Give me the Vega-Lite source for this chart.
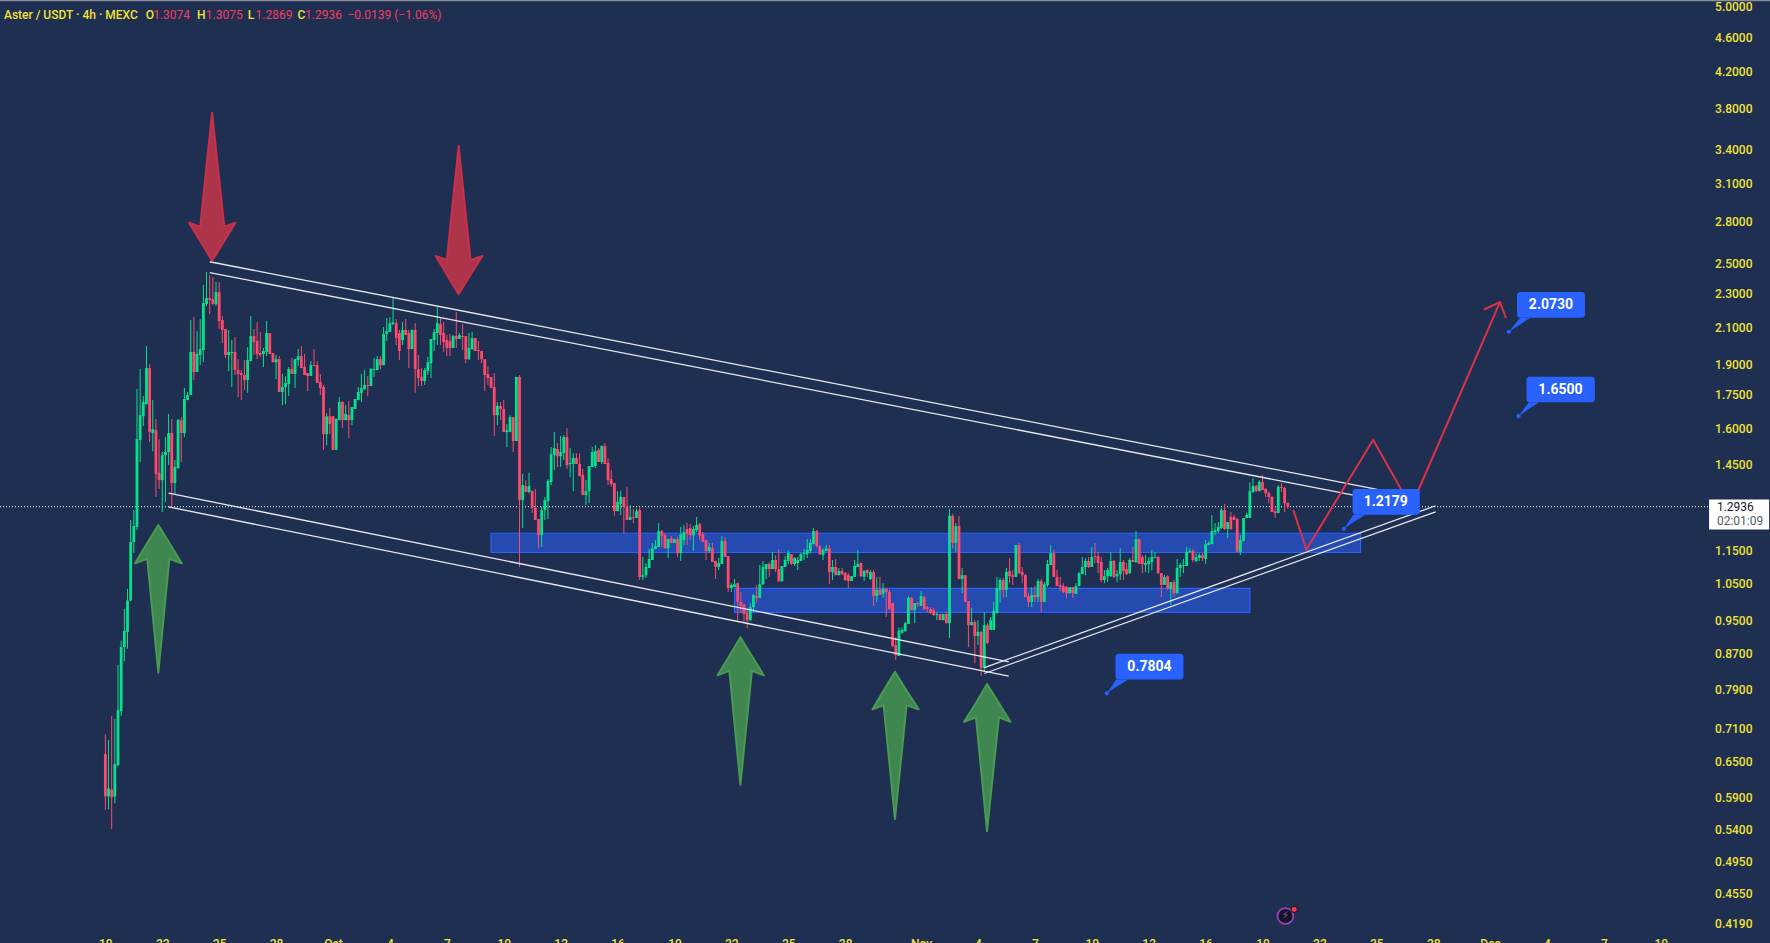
{"$schema":"https://vega.github.io/schema/vega-lite/v6.json","width":1770,"height":943,"autosize":"none","padding":0,"background":"#1f2f52","config":{"view":{"stroke":null}},
"datasets":{"candles":[
{"t":"2025-09-19T00:00Z","o":0.663,"h":0.699,"l":0.570,"c":0.591},{"t":"2025-09-19T04:00Z","o":0.591,"h":0.688,"l":0.571,"c":0.604},{"t":"2025-09-19T08:00Z","o":0.602,"h":0.735,"l":0.541,"c":0.590},{"t":"2025-09-19T12:00Z","o":0.591,"h":0.729,"l":0.580,"c":0.645},{"t":"2025-09-19T16:00Z","o":0.643,"h":0.843,"l":0.641,"c":0.746},{"t":"2025-09-19T20:00Z","o":0.744,"h":0.900,"l":0.735,"c":0.885},
{"t":"2025-09-20T00:00Z","o":0.885,"h":0.981,"l":0.852,"c":0.925},{"t":"2025-09-20T04:00Z","o":0.922,"h":1.036,"l":0.881,"c":1.004},{"t":"2025-09-20T08:00Z","o":1.004,"h":1.248,"l":1.002,"c":1.176},{"t":"2025-09-20T12:00Z","o":1.176,"h":1.282,"l":1.141,"c":1.228},{"t":"2025-09-20T16:00Z","o":1.225,"h":1.778,"l":1.215,"c":1.553},{"t":"2025-09-20T20:00Z","o":1.549,"h":1.877,"l":1.460,"c":1.657},
{"t":"2025-09-21T00:00Z","o":1.652,"h":1.745,"l":1.609,"c":1.717},{"t":"2025-09-21T04:00Z","o":1.707,"h":1.997,"l":1.707,"c":1.882},{"t":"2025-09-21T08:00Z","o":1.882,"h":1.902,"l":1.541,"c":1.584},{"t":"2025-09-21T12:00Z","o":1.579,"h":1.726,"l":1.503,"c":1.595},{"t":"2025-09-21T16:00Z","o":1.591,"h":1.640,"l":1.328,"c":1.414},{"t":"2025-09-21T20:00Z","o":1.418,"h":1.553,"l":1.357,"c":1.390},
{"t":"2025-09-22T00:00Z","o":1.390,"h":1.500,"l":1.275,"c":1.487},{"t":"2025-09-22T04:00Z","o":1.487,"h":1.562,"l":1.310,"c":1.500},{"t":"2025-09-22T08:00Z","o":1.500,"h":1.662,"l":1.448,"c":1.579},{"t":"2025-09-22T12:00Z","o":1.579,"h":1.640,"l":1.293,"c":1.379},{"t":"2025-09-22T16:00Z","o":1.379,"h":1.468,"l":1.339,"c":1.440},{"t":"2025-09-22T20:00Z","o":1.436,"h":1.640,"l":1.433,"c":1.635},
{"t":"2025-09-23T00:00Z","o":1.635,"h":1.648,"l":1.460,"c":1.579},{"t":"2025-09-23T04:00Z","o":1.579,"h":1.783,"l":1.562,"c":1.731},{"t":"2025-09-23T08:00Z","o":1.726,"h":1.764,"l":1.726,"c":1.750},{"t":"2025-09-23T12:00Z","o":1.750,"h":2.143,"l":1.750,"c":1.966},{"t":"2025-09-23T16:00Z","o":1.966,"h":2.160,"l":1.822,"c":1.862},{"t":"2025-09-23T20:00Z","o":1.862,"h":2.080,"l":1.862,"c":1.955},
{"t":"2025-09-24T00:00Z","o":1.950,"h":2.149,"l":1.897,"c":1.981},{"t":"2025-09-24T04:00Z","o":1.976,"h":2.356,"l":1.912,"c":2.244},{"t":"2025-09-24T08:00Z","o":2.238,"h":2.440,"l":2.226,"c":2.274},{"t":"2025-09-24T12:00Z","o":2.274,"h":2.420,"l":2.178,"c":2.262},{"t":"2025-09-24T16:00Z","o":2.268,"h":2.407,"l":2.232,"c":2.238},{"t":"2025-09-24T20:00Z","o":2.238,"h":2.375,"l":2.226,"c":2.311},
{"t":"2025-09-25T00:00Z","o":2.311,"h":2.375,"l":2.092,"c":2.137},{"t":"2025-09-25T04:00Z","o":2.143,"h":2.166,"l":2.014,"c":2.086},{"t":"2025-09-25T08:00Z","o":2.092,"h":2.092,"l":1.933,"c":1.950},{"t":"2025-09-25T12:00Z","o":1.950,"h":2.086,"l":1.867,"c":1.966},{"t":"2025-09-25T16:00Z","o":1.960,"h":2.030,"l":1.788,"c":1.966},{"t":"2025-09-25T20:00Z","o":1.966,"h":2.047,"l":1.847,"c":1.872},
{"t":"2025-09-26T00:00Z","o":1.872,"h":1.928,"l":1.740,"c":1.852},{"t":"2025-09-26T04:00Z","o":1.857,"h":1.872,"l":1.726,"c":1.847},{"t":"2025-09-26T08:00Z","o":1.847,"h":1.923,"l":1.774,"c":1.822},{"t":"2025-09-26T12:00Z","o":1.822,"h":1.992,"l":1.760,"c":1.923},{"t":"2025-09-26T16:00Z","o":1.918,"h":2.166,"l":1.918,"c":2.052},{"t":"2025-09-26T20:00Z","o":2.052,"h":2.092,"l":1.950,"c":2.019},
{"t":"2025-09-27T00:00Z","o":2.025,"h":2.131,"l":1.928,"c":1.955},{"t":"2025-09-27T04:00Z","o":1.960,"h":2.075,"l":1.939,"c":1.950},{"t":"2025-09-27T08:00Z","o":1.955,"h":1.987,"l":1.888,"c":1.971},{"t":"2025-09-27T12:00Z","o":1.966,"h":2.137,"l":1.944,"c":2.069},{"t":"2025-09-27T16:00Z","o":2.069,"h":2.069,"l":1.955,"c":1.955},{"t":"2025-09-27T20:00Z","o":1.960,"h":1.960,"l":1.912,"c":1.912},
{"t":"2025-09-28T00:00Z","o":1.912,"h":1.950,"l":1.827,"c":1.928},{"t":"2025-09-28T04:00Z","o":1.928,"h":1.944,"l":1.764,"c":1.764},{"t":"2025-09-28T08:00Z","o":1.764,"h":1.852,"l":1.703,"c":1.788},{"t":"2025-09-28T12:00Z","o":1.788,"h":1.842,"l":1.707,"c":1.808},{"t":"2025-09-28T16:00Z","o":1.803,"h":1.888,"l":1.745,"c":1.877},{"t":"2025-09-28T20:00Z","o":1.877,"h":1.933,"l":1.852,"c":1.852},
{"t":"2025-09-29T00:00Z","o":1.852,"h":1.928,"l":1.783,"c":1.928},{"t":"2025-09-29T04:00Z","o":1.923,"h":1.981,"l":1.892,"c":1.944},{"t":"2025-09-29T08:00Z","o":1.944,"h":1.997,"l":1.882,"c":1.882},{"t":"2025-09-29T12:00Z","o":1.888,"h":1.955,"l":1.847,"c":1.847},{"t":"2025-09-29T16:00Z","o":1.857,"h":1.857,"l":1.769,"c":1.842},{"t":"2025-09-29T20:00Z","o":1.842,"h":1.918,"l":1.842,"c":1.897},
{"t":"2025-09-30T00:00Z","o":1.897,"h":1.981,"l":1.892,"c":1.892},{"t":"2025-09-30T04:00Z","o":1.897,"h":1.918,"l":1.808,"c":1.808},{"t":"2025-09-30T08:00Z","o":1.812,"h":1.852,"l":1.750,"c":1.783},{"t":"2025-09-30T12:00Z","o":1.788,"h":1.798,"l":1.508,"c":1.574},{"t":"2025-09-30T16:00Z","o":1.574,"h":1.666,"l":1.528,"c":1.652},{"t":"2025-09-30T20:00Z","o":1.652,"h":1.689,"l":1.574,"c":1.618},
{"t":"2025-10-01T00:00Z","o":1.652,"h":1.652,"l":1.508,"c":1.508},{"t":"2025-10-01T04:00Z","o":1.508,"h":1.644,"l":1.508,"c":1.640},{"t":"2025-10-01T08:00Z","o":1.635,"h":1.740,"l":1.635,"c":1.717},{"t":"2025-10-01T12:00Z","o":1.717,"h":1.721,"l":1.600,"c":1.635},{"t":"2025-10-01T16:00Z","o":1.635,"h":1.703,"l":1.635,"c":1.662},{"t":"2025-10-01T20:00Z","o":1.657,"h":1.721,"l":1.557,"c":1.635},
{"t":"2025-10-02T00:00Z","o":1.635,"h":1.694,"l":1.613,"c":1.694},{"t":"2025-10-02T04:00Z","o":1.685,"h":1.731,"l":1.685,"c":1.731},{"t":"2025-10-02T08:00Z","o":1.726,"h":1.788,"l":1.726,"c":1.764},{"t":"2025-10-02T12:00Z","o":1.760,"h":1.852,"l":1.717,"c":1.783},{"t":"2025-10-02T16:00Z","o":1.778,"h":1.872,"l":1.774,"c":1.798},{"t":"2025-10-02T20:00Z","o":1.798,"h":1.842,"l":1.745,"c":1.793},
{"t":"2025-10-03T00:00Z","o":1.793,"h":1.882,"l":1.793,"c":1.877},{"t":"2025-10-03T04:00Z","o":1.872,"h":1.933,"l":1.837,"c":1.877},{"t":"2025-10-03T08:00Z","o":1.872,"h":1.944,"l":1.872,"c":1.928},{"t":"2025-10-03T12:00Z","o":1.928,"h":1.944,"l":1.877,"c":1.897},{"t":"2025-10-03T16:00Z","o":1.897,"h":2.103,"l":1.897,"c":2.064},{"t":"2025-10-03T20:00Z","o":2.064,"h":2.155,"l":2.025,"c":2.080},
{"t":"2025-10-04T00:00Z","o":2.075,"h":2.160,"l":2.075,"c":2.125},{"t":"2025-10-04T04:00Z","o":2.120,"h":2.274,"l":2.114,"c":2.131},{"t":"2025-10-04T08:00Z","o":2.125,"h":2.149,"l":2.003,"c":2.041},{"t":"2025-10-04T12:00Z","o":2.069,"h":2.086,"l":1.923,"c":1.971},{"t":"2025-10-04T16:00Z","o":2.030,"h":2.131,"l":2.003,"c":2.086},{"t":"2025-10-04T20:00Z","o":2.086,"h":2.149,"l":2.058,"c":2.058},
{"t":"2025-10-05T00:00Z","o":2.069,"h":2.086,"l":1.882,"c":1.981},{"t":"2025-10-05T04:00Z","o":1.981,"h":2.092,"l":1.981,"c":2.086},{"t":"2025-10-05T08:00Z","o":2.086,"h":2.125,"l":1.760,"c":1.877},{"t":"2025-10-05T12:00Z","o":1.877,"h":1.950,"l":1.793,"c":1.832},{"t":"2025-10-05T16:00Z","o":1.837,"h":1.882,"l":1.793,"c":1.817},{"t":"2025-10-05T20:00Z","o":1.817,"h":1.882,"l":1.798,"c":1.872},
{"t":"2025-10-06T00:00Z","o":1.867,"h":1.939,"l":1.847,"c":1.912},{"t":"2025-10-06T04:00Z","o":1.907,"h":2.036,"l":1.832,"c":2.036},{"t":"2025-10-06T08:00Z","o":2.030,"h":2.092,"l":1.971,"c":2.075},{"t":"2025-10-06T12:00Z","o":2.069,"h":2.220,"l":2.003,"c":2.125},{"t":"2025-10-06T16:00Z","o":2.120,"h":2.155,"l":2.003,"c":2.058},{"t":"2025-10-06T20:00Z","o":2.069,"h":2.131,"l":1.966,"c":2.019},
{"t":"2025-10-07T00:00Z","o":2.030,"h":2.058,"l":1.944,"c":1.987},{"t":"2025-10-07T04:00Z","o":2.025,"h":2.064,"l":1.944,"c":1.987},{"t":"2025-10-07T08:00Z","o":1.987,"h":2.058,"l":1.987,"c":2.052},{"t":"2025-10-07T12:00Z","o":2.052,"h":2.190,"l":1.987,"c":2.036},{"t":"2025-10-07T16:00Z","o":2.036,"h":2.069,"l":2.036,"c":2.058},{"t":"2025-10-07T20:00Z","o":2.052,"h":2.120,"l":1.976,"c":2.047},
{"t":"2025-10-08T00:00Z","o":2.052,"h":2.052,"l":1.907,"c":1.928},{"t":"2025-10-08T04:00Z","o":1.928,"h":2.069,"l":1.923,"c":1.987},{"t":"2025-10-08T08:00Z","o":1.981,"h":2.075,"l":1.976,"c":2.041},{"t":"2025-10-08T12:00Z","o":2.041,"h":2.041,"l":1.971,"c":1.971},{"t":"2025-10-08T16:00Z","o":1.976,"h":2.025,"l":1.923,"c":1.971},{"t":"2025-10-08T20:00Z","o":1.971,"h":1.971,"l":1.907,"c":1.928},
{"t":"2025-10-09T00:00Z","o":1.928,"h":1.928,"l":1.769,"c":1.847},{"t":"2025-10-09T04:00Z","o":1.852,"h":1.892,"l":1.798,"c":1.832},{"t":"2025-10-09T08:00Z","o":1.837,"h":1.837,"l":1.783,"c":1.783},{"t":"2025-10-09T12:00Z","o":1.788,"h":1.857,"l":1.566,"c":1.657},{"t":"2025-10-09T16:00Z","o":1.657,"h":1.717,"l":1.613,"c":1.699},{"t":"2025-10-09T20:00Z","o":1.699,"h":1.717,"l":1.635,"c":1.685},
{"t":"2025-10-10T00:00Z","o":1.685,"h":1.726,"l":1.583,"c":1.583},{"t":"2025-10-10T04:00Z","o":1.583,"h":1.618,"l":1.520,"c":1.591},{"t":"2025-10-10T08:00Z","o":1.583,"h":1.657,"l":1.583,"c":1.648},{"t":"2025-10-10T12:00Z","o":1.648,"h":1.648,"l":1.500,"c":1.545},{"t":"2025-10-10T16:00Z","o":1.545,"h":1.837,"l":1.545,"c":1.837},{"t":"2025-10-10T20:00Z","o":1.837,"h":1.847,"l":1.099,"c":1.317},
{"t":"2025-10-11T00:00Z","o":1.317,"h":1.414,"l":1.221,"c":1.372},{"t":"2025-10-11T04:00Z","o":1.368,"h":1.390,"l":1.346,"c":1.346},{"t":"2025-10-11T08:00Z","o":1.346,"h":1.418,"l":1.342,"c":1.368},{"t":"2025-10-11T12:00Z","o":1.349,"h":1.353,"l":1.272,"c":1.289},{"t":"2025-10-11T16:00Z","o":1.289,"h":1.357,"l":1.248,"c":1.248},{"t":"2025-10-11T20:00Z","o":1.251,"h":1.251,"l":1.156,"c":1.198},
{"t":"2025-10-12T00:00Z","o":1.198,"h":1.293,"l":1.160,"c":1.282},{"t":"2025-10-12T04:00Z","o":1.282,"h":1.328,"l":1.248,"c":1.317},{"t":"2025-10-12T08:00Z","o":1.313,"h":1.394,"l":1.251,"c":1.387},{"t":"2025-10-12T12:00Z","o":1.383,"h":1.520,"l":1.372,"c":1.491},{"t":"2025-10-12T16:00Z","o":1.487,"h":1.583,"l":1.429,"c":1.516},{"t":"2025-10-12T20:00Z","o":1.512,"h":1.537,"l":1.440,"c":1.483},
{"t":"2025-10-13T00:00Z","o":1.483,"h":1.566,"l":1.440,"c":1.500},{"t":"2025-10-13T04:00Z","o":1.495,"h":1.570,"l":1.468,"c":1.562},{"t":"2025-10-13T08:00Z","o":1.562,"h":1.600,"l":1.433,"c":1.448},{"t":"2025-10-13T12:00Z","o":1.452,"h":1.516,"l":1.401,"c":1.456},{"t":"2025-10-13T16:00Z","o":1.452,"h":1.495,"l":1.349,"c":1.476},{"t":"2025-10-13T20:00Z","o":1.476,"h":1.495,"l":1.452,"c":1.452},
{"t":"2025-10-14T00:00Z","o":1.452,"h":1.495,"l":1.405,"c":1.405},{"t":"2025-10-14T04:00Z","o":1.410,"h":1.433,"l":1.335,"c":1.335},{"t":"2025-10-14T08:00Z","o":1.335,"h":1.390,"l":1.299,"c":1.349},{"t":"2025-10-14T12:00Z","o":1.349,"h":1.444,"l":1.306,"c":1.444},{"t":"2025-10-14T16:00Z","o":1.440,"h":1.520,"l":1.440,"c":1.500},{"t":"2025-10-14T20:00Z","o":1.444,"h":1.528,"l":1.436,"c":1.503},
{"t":"2025-10-15T00:00Z","o":1.508,"h":1.516,"l":1.460,"c":1.460},{"t":"2025-10-15T04:00Z","o":1.460,"h":1.528,"l":1.452,"c":1.524},{"t":"2025-10-15T08:00Z","o":1.524,"h":1.537,"l":1.452,"c":1.452},{"t":"2025-10-15T12:00Z","o":1.456,"h":1.476,"l":1.372,"c":1.390},{"t":"2025-10-15T16:00Z","o":1.394,"h":1.429,"l":1.365,"c":1.375},{"t":"2025-10-15T20:00Z","o":1.379,"h":1.379,"l":1.262,"c":1.278},
{"t":"2025-10-16T00:00Z","o":1.278,"h":1.349,"l":1.278,"c":1.310},{"t":"2025-10-16T04:00Z","o":1.303,"h":1.349,"l":1.265,"c":1.328},{"t":"2025-10-16T08:00Z","o":1.328,"h":1.328,"l":1.204,"c":1.293},{"t":"2025-10-16T12:00Z","o":1.293,"h":1.365,"l":1.248,"c":1.248},{"t":"2025-10-16T16:00Z","o":1.248,"h":1.299,"l":1.248,"c":1.258},{"t":"2025-10-16T20:00Z","o":1.258,"h":1.286,"l":1.238,"c":1.255},
{"t":"2025-10-17T00:00Z","o":1.255,"h":1.286,"l":1.255,"c":1.278},{"t":"2025-10-17T04:00Z","o":1.282,"h":1.289,"l":1.061,"c":1.070},{"t":"2025-10-17T08:00Z","o":1.070,"h":1.129,"l":1.061,"c":1.075},{"t":"2025-10-17T12:00Z","o":1.075,"h":1.111,"l":1.067,"c":1.099},{"t":"2025-10-17T16:00Z","o":1.096,"h":1.154,"l":1.096,"c":1.123},{"t":"2025-10-17T20:00Z","o":1.120,"h":1.173,"l":1.120,"c":1.156},
{"t":"2025-10-18T00:00Z","o":1.154,"h":1.182,"l":1.154,"c":1.163},{"t":"2025-10-18T04:00Z","o":1.160,"h":1.238,"l":1.160,"c":1.211},{"t":"2025-10-18T08:00Z","o":1.211,"h":1.215,"l":1.160,"c":1.195},{"t":"2025-10-18T12:00Z","o":1.198,"h":1.204,"l":1.156,"c":1.156},{"t":"2025-10-18T16:00Z","o":1.156,"h":1.185,"l":1.126,"c":1.185},{"t":"2025-10-18T20:00Z","o":1.188,"h":1.195,"l":1.173,"c":1.173},
{"t":"2025-10-19T00:00Z","o":1.173,"h":1.185,"l":1.173,"c":1.185},{"t":"2025-10-19T04:00Z","o":1.185,"h":1.191,"l":1.129,"c":1.141},{"t":"2025-10-19T08:00Z","o":1.141,"h":1.225,"l":1.117,"c":1.201},{"t":"2025-10-19T12:00Z","o":1.182,"h":1.231,"l":1.166,"c":1.208},{"t":"2025-10-19T16:00Z","o":1.218,"h":1.238,"l":1.166,"c":1.201},{"t":"2025-10-19T20:00Z","o":1.221,"h":1.234,"l":1.182,"c":1.198},
{"t":"2025-10-20T00:00Z","o":1.198,"h":1.228,"l":1.148,"c":1.218},{"t":"2025-10-20T04:00Z","o":1.214,"h":1.258,"l":1.208,"c":1.231},{"t":"2025-10-20T08:00Z","o":1.234,"h":1.238,"l":1.182,"c":1.195},{"t":"2025-10-20T12:00Z","o":1.201,"h":1.208,"l":1.176,"c":1.176},{"t":"2025-10-20T16:00Z","o":1.182,"h":1.182,"l":1.120,"c":1.148},{"t":"2025-10-20T20:00Z","o":1.148,"h":1.173,"l":1.141,"c":1.160},
{"t":"2025-10-21T00:00Z","o":1.156,"h":1.173,"l":1.114,"c":1.114},{"t":"2025-10-21T04:00Z","o":1.117,"h":1.117,"l":1.064,"c":1.099},{"t":"2025-10-21T08:00Z","o":1.099,"h":1.126,"l":1.090,"c":1.111},{"t":"2025-10-21T12:00Z","o":1.108,"h":1.195,"l":1.108,"c":1.179},{"t":"2025-10-21T16:00Z","o":1.179,"h":1.191,"l":1.129,"c":1.129},{"t":"2025-10-21T20:00Z","o":1.132,"h":1.132,"l":1.027,"c":1.038},
{"t":"2025-10-22T00:00Z","o":1.038,"h":1.052,"l":1.027,"c":1.047},{"t":"2025-10-22T04:00Z","o":1.041,"h":1.064,"l":1.041,"c":1.049},{"t":"2025-10-22T08:00Z","o":1.052,"h":1.052,"l":0.952,"c":1.000},{"t":"2025-10-22T12:00Z","o":1.000,"h":1.027,"l":0.970,"c":0.989},{"t":"2025-10-22T16:00Z","o":0.994,"h":0.994,"l":0.947,"c":0.968},{"t":"2025-10-22T20:00Z","o":0.970,"h":0.981,"l":0.931,"c":0.952},
{"t":"2025-10-23T00:00Z","o":0.952,"h":0.997,"l":0.949,"c":0.986},{"t":"2025-10-23T04:00Z","o":0.986,"h":1.022,"l":0.973,"c":1.019},{"t":"2025-10-23T08:00Z","o":1.016,"h":1.047,"l":0.997,"c":1.011},{"t":"2025-10-23T12:00Z","o":1.011,"h":1.105,"l":1.011,"c":1.049},{"t":"2025-10-23T16:00Z","o":1.049,"h":1.117,"l":1.047,"c":1.099},{"t":"2025-10-23T20:00Z","o":1.093,"h":1.108,"l":1.064,"c":1.108},
{"t":"2025-10-24T00:00Z","o":1.108,"h":1.114,"l":1.070,"c":1.093},{"t":"2025-10-24T04:00Z","o":1.093,"h":1.145,"l":1.093,"c":1.120},{"t":"2025-10-24T08:00Z","o":1.120,"h":1.135,"l":1.084,"c":1.093},{"t":"2025-10-24T12:00Z","o":1.093,"h":1.154,"l":1.055,"c":1.058},{"t":"2025-10-24T16:00Z","o":1.058,"h":1.102,"l":1.055,"c":1.102},{"t":"2025-10-24T20:00Z","o":1.099,"h":1.132,"l":1.099,"c":1.120},
{"t":"2025-10-25T00:00Z","o":1.117,"h":1.151,"l":1.108,"c":1.141},{"t":"2025-10-25T04:00Z","o":1.138,"h":1.138,"l":1.105,"c":1.108},{"t":"2025-10-25T08:00Z","o":1.108,"h":1.129,"l":1.102,"c":1.126},{"t":"2025-10-25T12:00Z","o":1.111,"h":1.129,"l":1.090,"c":1.120},{"t":"2025-10-25T16:00Z","o":1.117,"h":1.141,"l":1.117,"c":1.138},{"t":"2025-10-25T20:00Z","o":1.138,"h":1.154,"l":1.120,"c":1.141},
{"t":"2025-10-26T00:00Z","o":1.138,"h":1.185,"l":1.126,"c":1.151},{"t":"2025-10-26T04:00Z","o":1.148,"h":1.185,"l":1.141,"c":1.173},{"t":"2025-10-26T08:00Z","o":1.169,"h":1.221,"l":1.169,"c":1.211},{"t":"2025-10-26T12:00Z","o":1.211,"h":1.215,"l":1.160,"c":1.163},{"t":"2025-10-26T16:00Z","o":1.163,"h":1.166,"l":1.135,"c":1.138},{"t":"2025-10-26T20:00Z","o":1.135,"h":1.156,"l":1.120,"c":1.151},
{"t":"2025-10-27T00:00Z","o":1.148,"h":1.166,"l":1.148,"c":1.156},{"t":"2025-10-27T04:00Z","o":1.156,"h":1.166,"l":1.049,"c":1.084},{"t":"2025-10-27T08:00Z","o":1.084,"h":1.120,"l":1.061,"c":1.099},{"t":"2025-10-27T12:00Z","o":1.099,"h":1.123,"l":1.075,"c":1.075},{"t":"2025-10-27T16:00Z","o":1.075,"h":1.096,"l":1.075,"c":1.087},{"t":"2025-10-27T20:00Z","o":1.087,"h":1.096,"l":1.075,"c":1.078},
{"t":"2025-10-28T00:00Z","o":1.081,"h":1.084,"l":1.058,"c":1.061},{"t":"2025-10-28T04:00Z","o":1.075,"h":1.081,"l":1.038,"c":1.058},{"t":"2025-10-28T08:00Z","o":1.058,"h":1.072,"l":1.058,"c":1.072},{"t":"2025-10-28T12:00Z","o":1.070,"h":1.120,"l":1.070,"c":1.102},{"t":"2025-10-28T16:00Z","o":1.099,"h":1.151,"l":1.099,"c":1.108},{"t":"2025-10-28T20:00Z","o":1.111,"h":1.114,"l":1.070,"c":1.072},
{"t":"2025-10-29T00:00Z","o":1.070,"h":1.090,"l":1.058,"c":1.087},{"t":"2025-10-29T04:00Z","o":1.090,"h":1.093,"l":1.070,"c":1.081},{"t":"2025-10-29T08:00Z","o":1.064,"h":1.090,"l":1.061,"c":1.084},{"t":"2025-10-29T12:00Z","o":1.084,"h":1.090,"l":0.989,"c":1.016},{"t":"2025-10-29T16:00Z","o":1.016,"h":1.070,"l":1.000,"c":1.033},{"t":"2025-10-29T20:00Z","o":1.033,"h":1.070,"l":1.019,"c":1.019},
{"t":"2025-10-30T00:00Z","o":1.022,"h":1.052,"l":1.011,"c":1.036},{"t":"2025-10-30T04:00Z","o":1.036,"h":1.038,"l":0.960,"c":1.027},{"t":"2025-10-30T08:00Z","o":1.027,"h":1.033,"l":0.978,"c":0.981},{"t":"2025-10-30T12:00Z","o":0.997,"h":0.997,"l":0.885,"c":0.887},{"t":"2025-10-30T16:00Z","o":0.890,"h":0.909,"l":0.855,"c":0.866},{"t":"2025-10-30T20:00Z","o":0.864,"h":0.933,"l":0.864,"c":0.925},
{"t":"2025-10-31T00:00Z","o":0.920,"h":0.933,"l":0.917,"c":0.927},{"t":"2025-10-31T04:00Z","o":0.925,"h":0.947,"l":0.922,"c":0.944},{"t":"2025-10-31T08:00Z","o":0.942,"h":1.016,"l":0.942,"c":1.011},{"t":"2025-10-31T12:00Z","o":1.011,"h":1.013,"l":0.978,"c":0.978},{"t":"2025-10-31T16:00Z","o":0.978,"h":0.997,"l":0.944,"c":0.997},{"t":"2025-10-31T20:00Z","o":0.997,"h":1.000,"l":0.986,"c":0.994},
{"t":"2025-11-01T00:00Z","o":0.989,"h":1.030,"l":0.989,"c":1.016},{"t":"2025-11-01T04:00Z","o":1.013,"h":1.016,"l":0.978,"c":0.981},{"t":"2025-11-01T08:00Z","o":0.986,"h":0.989,"l":0.973,"c":0.981},{"t":"2025-11-01T12:00Z","o":0.981,"h":0.986,"l":0.968,"c":0.970},{"t":"2025-11-01T16:00Z","o":0.978,"h":0.984,"l":0.963,"c":0.965},{"t":"2025-11-01T20:00Z","o":0.965,"h":0.973,"l":0.952,"c":0.968},
{"t":"2025-11-02T00:00Z","o":0.968,"h":0.968,"l":0.952,"c":0.952},{"t":"2025-11-02T04:00Z","o":0.952,"h":0.968,"l":0.952,"c":0.968},{"t":"2025-11-02T08:00Z","o":0.968,"h":0.973,"l":0.944,"c":0.944},{"t":"2025-11-02T12:00Z","o":0.944,"h":1.286,"l":0.907,"c":1.262},{"t":"2025-11-02T16:00Z","o":1.262,"h":1.268,"l":1.156,"c":1.173},{"t":"2025-11-02T20:00Z","o":1.173,"h":1.238,"l":1.145,"c":1.228},
{"t":"2025-11-03T00:00Z","o":1.228,"h":1.262,"l":1.064,"c":1.064},{"t":"2025-11-03T04:00Z","o":1.064,"h":1.096,"l":1.024,"c":1.075},{"t":"2025-11-03T08:00Z","o":1.075,"h":1.075,"l":1.000,"c":1.000},{"t":"2025-11-03T12:00Z","o":1.002,"h":1.002,"l":0.885,"c":0.939},{"t":"2025-11-03T16:00Z","o":0.939,"h":0.984,"l":0.939,"c":0.947},{"t":"2025-11-03T20:00Z","o":0.947,"h":0.952,"l":0.847,"c":0.912},
{"t":"2025-11-04T00:00Z","o":0.912,"h":0.952,"l":0.890,"c":0.922},{"t":"2025-11-04T04:00Z","o":0.922,"h":0.925,"l":0.819,"c":0.836},{"t":"2025-11-04T08:00Z","o":0.836,"h":0.973,"l":0.827,"c":0.939},{"t":"2025-11-04T12:00Z","o":0.939,"h":0.944,"l":0.892,"c":0.895},{"t":"2025-11-04T16:00Z","o":0.927,"h":0.960,"l":0.927,"c":0.952},{"t":"2025-11-04T20:00Z","o":0.927,"h":1.000,"l":0.927,"c":0.976},
{"t":"2025-11-05T00:00Z","o":0.970,"h":1.070,"l":0.970,"c":1.038},{"t":"2025-11-05T04:00Z","o":1.033,"h":1.067,"l":0.997,"c":1.061},{"t":"2025-11-05T08:00Z","o":1.061,"h":1.067,"l":1.011,"c":1.033},{"t":"2025-11-05T12:00Z","o":1.033,"h":1.096,"l":1.013,"c":1.084},{"t":"2025-11-05T16:00Z","o":1.087,"h":1.126,"l":1.052,"c":1.072},{"t":"2025-11-05T20:00Z","o":1.075,"h":1.090,"l":1.047,"c":1.070},
{"t":"2025-11-06T00:00Z","o":1.070,"h":1.166,"l":1.070,"c":1.166},{"t":"2025-11-06T04:00Z","o":1.166,"h":1.173,"l":1.078,"c":1.081},{"t":"2025-11-06T08:00Z","o":1.084,"h":1.099,"l":1.052,"c":1.075},{"t":"2025-11-06T12:00Z","o":1.075,"h":1.078,"l":1.013,"c":1.013},{"t":"2025-11-06T16:00Z","o":1.016,"h":1.024,"l":0.986,"c":1.000},{"t":"2025-11-06T20:00Z","o":1.000,"h":1.041,"l":0.986,"c":1.019},
{"t":"2025-11-07T00:00Z","o":1.019,"h":1.044,"l":1.000,"c":1.013},{"t":"2025-11-07T04:00Z","o":1.013,"h":1.064,"l":1.000,"c":1.058},{"t":"2025-11-07T08:00Z","o":1.058,"h":1.064,"l":0.973,"c":1.000},{"t":"2025-11-07T12:00Z","o":1.000,"h":1.055,"l":1.000,"c":1.049},{"t":"2025-11-07T16:00Z","o":1.047,"h":1.120,"l":1.041,"c":1.108},{"t":"2025-11-07T20:00Z","o":1.105,"h":1.166,"l":1.105,"c":1.141},
{"t":"2025-11-08T00:00Z","o":1.141,"h":1.151,"l":1.070,"c":1.070},{"t":"2025-11-08T04:00Z","o":1.070,"h":1.090,"l":1.044,"c":1.044},{"t":"2025-11-08T08:00Z","o":1.047,"h":1.070,"l":1.030,"c":1.041},{"t":"2025-11-08T12:00Z","o":1.044,"h":1.052,"l":1.024,"c":1.027},{"t":"2025-11-08T16:00Z","o":1.041,"h":1.044,"l":1.011,"c":1.024},{"t":"2025-11-08T20:00Z","o":1.024,"h":1.041,"l":1.022,"c":1.041},
{"t":"2025-11-09T00:00Z","o":1.041,"h":1.041,"l":1.011,"c":1.024},{"t":"2025-11-09T04:00Z","o":1.022,"h":1.052,"l":1.022,"c":1.044},{"t":"2025-11-09T08:00Z","o":1.044,"h":1.084,"l":1.044,"c":1.081},{"t":"2025-11-09T12:00Z","o":1.078,"h":1.129,"l":1.078,"c":1.099},{"t":"2025-11-09T16:00Z","o":1.099,"h":1.126,"l":1.075,"c":1.117},{"t":"2025-11-09T20:00Z","o":1.117,"h":1.129,"l":1.096,"c":1.099},
{"t":"2025-11-10T00:00Z","o":1.099,"h":1.160,"l":1.099,"c":1.129},{"t":"2025-11-10T04:00Z","o":1.132,"h":1.173,"l":1.111,"c":1.129},{"t":"2025-11-10T08:00Z","o":1.132,"h":1.145,"l":1.081,"c":1.111},{"t":"2025-11-10T12:00Z","o":1.114,"h":1.129,"l":1.055,"c":1.061},{"t":"2025-11-10T16:00Z","o":1.061,"h":1.090,"l":1.052,"c":1.072},{"t":"2025-11-10T20:00Z","o":1.072,"h":1.096,"l":1.055,"c":1.090},
{"t":"2025-11-11T00:00Z","o":1.072,"h":1.145,"l":1.070,"c":1.117},{"t":"2025-11-11T04:00Z","o":1.117,"h":1.120,"l":1.067,"c":1.070},{"t":"2025-11-11T08:00Z","o":1.072,"h":1.090,"l":1.055,"c":1.078},{"t":"2025-11-11T12:00Z","o":1.078,"h":1.156,"l":1.061,"c":1.114},{"t":"2025-11-11T16:00Z","o":1.114,"h":1.120,"l":1.061,"c":1.087},{"t":"2025-11-11T20:00Z","o":1.093,"h":1.111,"l":1.075,"c":1.078},
{"t":"2025-11-12T00:00Z","o":1.081,"h":1.126,"l":1.078,"c":1.120},{"t":"2025-11-12T04:00Z","o":1.120,"h":1.160,"l":1.114,"c":1.114},{"t":"2025-11-12T08:00Z","o":1.114,"h":1.211,"l":1.111,"c":1.185},{"t":"2025-11-12T12:00Z","o":1.185,"h":1.185,"l":1.108,"c":1.108},{"t":"2025-11-12T16:00Z","o":1.129,"h":1.135,"l":1.081,"c":1.108},{"t":"2025-11-12T20:00Z","o":1.105,"h":1.135,"l":1.084,"c":1.111},
{"t":"2025-11-13T00:00Z","o":1.108,"h":1.129,"l":1.081,"c":1.117},{"t":"2025-11-13T04:00Z","o":1.114,"h":1.151,"l":1.090,"c":1.129},{"t":"2025-11-13T08:00Z","o":1.126,"h":1.145,"l":1.126,"c":1.129},{"t":"2025-11-13T12:00Z","o":1.129,"h":1.132,"l":1.078,"c":1.081},{"t":"2025-11-13T16:00Z","o":1.081,"h":1.081,"l":1.013,"c":1.047},{"t":"2025-11-13T20:00Z","o":1.047,"h":1.075,"l":1.047,"c":1.070},
{"t":"2025-11-14T00:00Z","o":1.072,"h":1.075,"l":1.033,"c":1.036},{"t":"2025-11-14T04:00Z","o":1.036,"h":1.055,"l":0.992,"c":1.055},{"t":"2025-11-14T08:00Z","o":1.055,"h":1.061,"l":1.013,"c":1.024},{"t":"2025-11-14T12:00Z","o":1.024,"h":1.123,"l":1.022,"c":1.096},{"t":"2025-11-14T16:00Z","o":1.096,"h":1.111,"l":1.070,"c":1.105},{"t":"2025-11-14T20:00Z","o":1.102,"h":1.123,"l":1.081,"c":1.105},
{"t":"2025-11-15T00:00Z","o":1.102,"h":1.160,"l":1.102,"c":1.145},{"t":"2025-11-15T04:00Z","o":1.145,"h":1.156,"l":1.141,"c":1.148},{"t":"2025-11-15T08:00Z","o":1.148,"h":1.154,"l":1.114,"c":1.120},{"t":"2025-11-15T12:00Z","o":1.117,"h":1.141,"l":1.114,"c":1.129},{"t":"2025-11-15T16:00Z","o":1.126,"h":1.141,"l":1.117,"c":1.135},{"t":"2025-11-15T20:00Z","o":1.135,"h":1.141,"l":1.117,"c":1.126},
{"t":"2025-11-16T00:00Z","o":1.123,"h":1.182,"l":1.108,"c":1.169},{"t":"2025-11-16T04:00Z","o":1.166,"h":1.179,"l":1.166,"c":1.173},{"t":"2025-11-16T08:00Z","o":1.169,"h":1.265,"l":1.169,"c":1.211},{"t":"2025-11-16T12:00Z","o":1.208,"h":1.238,"l":1.198,"c":1.214},{"t":"2025-11-16T16:00Z","o":1.211,"h":1.241,"l":1.204,"c":1.225},{"t":"2025-11-16T20:00Z","o":1.221,"h":1.289,"l":1.218,"c":1.282},
{"t":"2025-11-17T00:00Z","o":1.282,"h":1.303,"l":1.215,"c":1.218},{"t":"2025-11-17T04:00Z","o":1.218,"h":1.241,"l":1.188,"c":1.241},{"t":"2025-11-17T08:00Z","o":1.258,"h":1.275,"l":1.215,"c":1.218},{"t":"2025-11-17T12:00Z","o":1.258,"h":1.265,"l":1.248,"c":1.248},{"t":"2025-11-17T16:00Z","o":1.251,"h":1.255,"l":1.145,"c":1.145},{"t":"2025-11-17T20:00Z","o":1.145,"h":1.198,"l":1.135,"c":1.182},
{"t":"2025-11-18T00:00Z","o":1.179,"h":1.255,"l":1.179,"c":1.255},{"t":"2025-11-18T04:00Z","o":1.255,"h":1.272,"l":1.255,"c":1.265},{"t":"2025-11-18T08:00Z","o":1.255,"h":1.382,"l":1.255,"c":1.349},{"t":"2025-11-18T12:00Z","o":1.346,"h":1.398,"l":1.342,"c":1.368},{"t":"2025-11-18T16:00Z","o":1.368,"h":1.372,"l":1.346,"c":1.349},{"t":"2025-11-18T20:00Z","o":1.349,"h":1.390,"l":1.349,"c":1.383},
{"t":"2025-11-19T00:00Z","o":1.383,"h":1.410,"l":1.353,"c":1.353},{"t":"2025-11-19T04:00Z","o":1.357,"h":1.361,"l":1.328,"c":1.342},{"t":"2025-11-19T08:00Z","o":1.342,"h":1.349,"l":1.306,"c":1.328},{"t":"2025-11-19T12:00Z","o":1.328,"h":1.331,"l":1.275,"c":1.275},{"t":"2025-11-19T16:00Z","o":1.278,"h":1.289,"l":1.255,"c":1.272},{"t":"2025-11-19T20:00Z","o":1.272,"h":1.372,"l":1.272,"c":1.365},
{"t":"2025-11-20T00:00Z","o":1.365,"h":1.379,"l":1.346,"c":1.361},{"t":"2025-11-20T04:00Z","o":1.361,"h":1.365,"l":1.275,"c":1.306},{"t":"2025-11-20T08:00Z","o":1.3074,"h":1.3075,"l":1.2869,"c":1.2936}
]},
"encoding":{
"x":{"field":"t","type":"temporal","title":null,"scale":{"type":"utc","domain":[1757760120000,1765821960000],"nice":false,"padding":0},"axis":{"orient":"bottom","offset":-5,"title":null,"grid":false,"domain":false,"ticks":false,"labelPadding":0,"labelBaseline":"top","labelColor":"#f2e234","labelFont":"Roboto","labelFontSize":12,"labelFontWeight":500,"labelOverlap":false,"labelFlush":false,"labelBound":false,"values":[1758240000000,1758499200000,1758758400000,1759017600000,1759276800000,1759536000000,1759795200000,1760054400000,1760313600000,1760572800000,1760832000000,1761091200000,1761350400000,1761609600000,1761955200000,1762214400000,1762473600000,1762732800000,1762992000000,1763251200000,1763510400000,1763769600000,1764028800000,1764288000000,1764547200000,1764806400000,1765065600000,1765324800000],"labelExpr":"utcdate(datum.value)==1?utcFormat(datum.value,'%b'):utcFormat(datum.value,'%-d')"}},
"y":{"field":"p","type":"quantitative","title":null,"scale":{"type":"log","domain":[0.3976,5.092],"nice":false,"zero":false},"axis":{"orient":"left","offset":-1752,"title":null,"grid":false,"domain":false,"ticks":false,"labelPadding":0,"labelColor":"#f2e234","labelFont":"Roboto","labelFontSize":12,"labelFontWeight":500,"labelOverlap":false,"labelFlush":false,"labelBound":false,"format":".4f","values":[5,4.6,4.2,3.8,3.4,3.1,2.8,2.5,2.3,2.1,1.9,1.75,1.6,1.45,1.15,1.05,0.95,0.87,0.79,0.71,0.65,0.59,0.54,0.495,0.455,0.419]}}
},
"layer":[
{"data":{"values":[{"v":"top","p":5.088}]},"mark":{"type":"rule","stroke":"#8a8f99","strokeWidth":2},"encoding":{"x":{"value":0},"x2":{"value":1770}}},
{"data":{"values":[{"t":"2025-10-09T08:00Z","t2":"2025-11-24T04:00Z","p":1.204,"p2":1.143},{"t":"2025-10-22T04:00Z","t2":"2025-11-18T08:00Z","p":1.0375,"p2":0.9723}],"format":{"parse":{"t":"date","t2":"date"}}},"mark":{"type":"rect","fill":"#2962ff","fillOpacity":0.55,"stroke":"#2962ff","strokeWidth":1.2},"encoding":{"x2":{"field":"t2"},"y2":{"field":"p2"}}},
{"data":{"values":[{"p":1.2936}]},"mark":{"type":"rule","stroke":"#ffffff","strokeWidth":1,"strokeDash":[1,2]},"encoding":{"x":{"value":0},"x2":{"value":1770}}},
{"data":{"name":"candles"},"mark":{"type":"rule","strokeWidth":1},"encoding":{"y":{"field":"h","type":"quantitative"},"y2":{"field":"l"},"color":{"condition":{"test":"datum.c>=datum.o","value":"#05e28c"},"value":"#ff4a6b"}}},
{"data":{"name":"candles"},"mark":{"type":"bar","size":2.8},"encoding":{"y":{"field":"o","type":"quantitative"},"y2":{"field":"c"},"color":{"condition":{"test":"datum.c>=datum.o","value":"#05e28c"},"value":"#ff4a6b"}}},
{"data":{"values":[{"t":"2025-09-24T12:00Z","t2":"2025-11-25T01:00Z","p":2.509,"p2":1.356},{"t":"2025-09-24T12:00Z","t2":"2025-11-23T19:00Z","p":2.436,"p2":1.335},{"t":"2025-09-22T08:00Z","t2":"2025-11-05T15:00Z","p":1.342,"p2":0.8505},{"t":"2025-09-22T08:00Z","t2":"2025-11-05T15:00Z","p":1.293,"p2":0.8184},{"t":"2025-11-04T08:00Z","t2":"2025-11-28T03:00Z","p":0.837,"p2":1.297},{"t":"2025-11-04T08:00Z","t2":"2025-11-28T03:00Z","p":0.824,"p2":1.276}],"format":{"parse":{"t":"date","t2":"date"}}},"mark":{"type":"rule","stroke":"#e6e8ee","strokeWidth":1.3},"encoding":{"x2":{"field":"t2"},"y2":{"field":"p2"}}},
{"data":{"values":[
{"g":"a","t":"2025-09-23T10:00Z","p":2.788,"p2":2.788},{"g":"a","t":"2025-09-24T00:00Z","p":2.758,"p2":2.654},{"g":"a","t":"2025-09-24T15:00Z","p":3.754,"p2":2.516},{"g":"a","t":"2025-09-25T06:30Z","p":2.758,"p2":2.654},{"g":"a","t":"2025-09-25T20:30Z","p":2.788,"p2":2.788},
{"g":"b","t":"2025-10-06T10:00Z","p":2.548,"p2":2.548},{"g":"b","t":"2025-10-07T00:00Z","p":2.521,"p2":2.422},{"g":"b","t":"2025-10-07T15:00Z","p":3.431,"p2":2.298},{"g":"b","t":"2025-10-08T06:00Z","p":2.521,"p2":2.422},{"g":"b","t":"2025-10-08T21:00Z","p":2.548,"p2":2.548}
],"format":{"parse":{"t":"date"}}},"mark":{"type":"area","fill":"#ad3449","stroke":"#c9304a","strokeWidth":2,"strokeJoin":"round"},"encoding":{"y2":{"field":"p2"},"detail":{"field":"g"}}},
{"data":{"values":[
{"g":"a","t":"2025-09-20T13:30Z","p":1.110,"p2":1.110},{"g":"a","t":"2025-09-21T05:00Z","p":1.173,"p2":1.124},{"g":"a","t":"2025-09-21T19:00Z","p":1.231,"p2":0.826},{"g":"a","t":"2025-09-22T09:00Z","p":1.173,"p2":1.124},{"g":"a","t":"2025-09-23T00:40Z","p":1.110,"p2":1.110},
{"g":"b","t":"2025-10-21T06:30Z","p":0.820,"p2":0.820},{"g":"b","t":"2025-10-21T21:30Z","p":0.864,"p2":0.830},{"g":"b","t":"2025-10-22T11:30Z","p":0.909,"p2":0.610},{"g":"b","t":"2025-10-23T02:00Z","p":0.864,"p2":0.830},{"g":"b","t":"2025-10-23T17:00Z","p":0.820,"p2":0.820},
{"g":"c","t":"2025-10-29T10:40Z","p":0.748,"p2":0.748},{"g":"c","t":"2025-10-30T00:40Z","p":0.787,"p2":0.756},{"g":"c","t":"2025-10-30T15:00Z","p":0.828,"p2":0.556},{"g":"c","t":"2025-10-31T05:40Z","p":0.787,"p2":0.756},{"g":"c","t":"2025-10-31T21:00Z","p":0.748,"p2":0.748},
{"g":"d","t":"2025-11-03T06:30Z","p":0.723,"p2":0.723},{"g":"d","t":"2025-11-03T21:30Z","p":0.761,"p2":0.732},{"g":"d","t":"2025-11-04T11:30Z","p":0.801,"p2":0.538},{"g":"d","t":"2025-11-05T02:30Z","p":0.761,"p2":0.732},{"g":"d","t":"2025-11-05T17:00Z","p":0.723,"p2":0.723}
],"format":{"parse":{"t":"date"}}},"mark":{"type":"area","fill":"#3f8650","stroke":"#4a9a52","strokeWidth":2,"strokeJoin":"round"},"encoding":{"y2":{"field":"p2"},"detail":{"field":"g"}}},
{"data":{"values":[
{"g":"path","n":1,"t":"2025-11-20T15:00Z","p":1.282},{"g":"path","n":2,"t":"2025-11-21T07:30Z","p":1.152},{"g":"path","n":3,"t":"2025-11-24T20:00Z","p":1.550},{"g":"path","n":4,"t":"2025-11-26T20:00Z","p":1.293},{"g":"path","n":5,"t":"2025-12-01T12:30Z","p":2.250},
{"g":"head","n":1,"t":"2025-11-30T16:00Z","p":2.205},{"g":"head","n":2,"t":"2025-12-01T12:30Z","p":2.250},{"g":"head","n":3,"t":"2025-12-01T20:00Z","p":2.155}
],"format":{"parse":{"t":"date"}}},"mark":{"type":"line","stroke":"#dd3247","strokeWidth":2},"encoding":{"detail":{"field":"g"},"order":{"field":"n"}}},
{"data":{"values":[
{"g":"a","t":"2025-12-01T23:40Z","p":2.076,"p2":2.076},{"g":"a","t":"2025-12-02T14:00Z","p":2.157,"p2":2.118},{"g":"a","t":"2025-12-03T03:00Z","p":2.157,"p2":2.157},
{"g":"b","t":"2025-12-02T12:00Z","p":1.653,"p2":1.653},{"g":"b","t":"2025-12-03T01:00Z","p":1.716,"p2":1.685},{"g":"b","t":"2025-12-03T14:00Z","p":1.716,"p2":1.716},
{"g":"c","t":"2025-11-23T07:00Z","p":1.2186,"p2":1.2186},{"g":"c","t":"2025-11-23T19:00Z","p":1.266,"p2":1.240},{"g":"c","t":"2025-11-24T10:00Z","p":1.266,"p2":1.266},
{"g":"d","t":"2025-11-10T19:00Z","p":0.781,"p2":0.781},{"g":"d","t":"2025-11-11T07:00Z","p":0.811,"p2":0.7944},{"g":"d","t":"2025-11-11T22:00Z","p":0.811,"p2":0.811}
],"format":{"parse":{"t":"date"}}},"mark":{"type":"area","fill":"#2962ff"},"encoding":{"y2":{"field":"p2"},"detail":{"field":"g"}}},
{"data":{"values":[{"t":"2025-12-01T23:40Z","p":2.076},{"t":"2025-12-02T12:00Z","p":1.653},{"t":"2025-11-23T07:00Z","p":1.2186},{"t":"2025-11-10T19:00Z","p":0.781}]},"mark":{"type":"point","filled":true,"fill":"#2962ff","opacity":1,"size":18}},
{"data":{"values":[{"t":"2025-12-02T10:00Z","t2":"2025-12-06T00:00Z","p":2.312,"p2":2.157},{"t":"2025-12-02T22:00Z","t2":"2025-12-06T12:30Z","p":1.839,"p2":1.716},{"t":"2025-11-23T18:00Z","t2":"2025-11-27T07:00Z","p":1.357,"p2":1.266},{"t":"2025-11-11T06:00Z","t2":"2025-11-14T20:00Z","p":0.869,"p2":0.811}],"format":{"parse":{"t":"date","t2":"date"}}},"mark":{"type":"rect","fill":"#2962ff","cornerRadius":3},"encoding":{"x2":{"field":"t2"},"y2":{"field":"p2"}}},
{"data":{"values":[{"t":"2025-12-04T05:00Z","p":2.235,"s":"2.0730"},{"t":"2025-12-04T17:00Z","p":1.776,"s":"1.6500"},{"t":"2025-11-25T12:00Z","p":1.312,"s":"1.2179"},{"t":"2025-11-13T01:00Z","p":0.8397,"s":"0.7804"}]},"mark":{"type":"text","font":"Roboto","fontSize":14,"fontWeight":"bold","color":"#ffffff","align":"center","baseline":"middle"},"encoding":{"text":{"field":"s"}}},
{"data":{"values":[{"t":"2025-12-12T13:00Z","t2":"2025-12-15T17:00Z","p":1.319,"p2":1.216}],"format":{"parse":{"t":"date","t2":"date"}}},"mark":{"type":"rect","fill":"#ffffff"},"encoding":{"x2":{"field":"t2"},"y2":{"field":"p2"}}},
{"data":{"values":[{"t":"2025-12-12T23:00Z","p":1.2936,"s":"1.2936"}]},"mark":{"type":"text","font":"Roboto","fontSize":12,"color":"#131722","align":"left","baseline":"middle"},"encoding":{"text":{"field":"s"}}},
{"data":{"values":[{"t":"2025-12-12T23:00Z","p":1.243,"s":"02:01:09"}]},"mark":{"type":"text","font":"Roboto","fontSize":12,"color":"#555a66","align":"left","baseline":"middle"},"encoding":{"text":{"field":"s"}}},
{"data":{"values":[{"t":"2025-09-13T15:40Z","p":4.889,"s":"Aster / USDT · 4h · MEXC"},{"t":"2025-09-21T03:00Z","p":4.889,"s":"O"},{"t":"2025-09-23T20:00Z","p":4.889,"s":"H"},{"t":"2025-09-26T12:00Z","p":4.889,"s":"L"},{"t":"2025-09-29T03:00Z","p":4.889,"s":"C"}]},"mark":{"type":"text","font":"Roboto","fontSize":12,"fontWeight":500,"color":"#f2e234","align":"left","baseline":"middle"},"encoding":{"text":{"field":"s"}}},
{"data":{"values":[{"t":"2025-09-21T12:30Z","p":4.889,"s":"1.3074"},{"t":"2025-09-24T07:00Z","p":4.889,"s":"1.3075"},{"t":"2025-09-26T22:00Z","p":4.889,"s":"1.2869"},{"t":"2025-09-29T12:40Z","p":4.889,"s":"1.2936"},{"t":"2025-10-01T18:20Z","p":4.889,"s":"−0.0139 (−1.06%)"}]},"mark":{"type":"text","font":"Roboto","fontSize":12,"color":"#f23e60","align":"left","baseline":"middle"},"encoding":{"text":{"field":"s"}}},
{"data":{"values":[{"t":"2025-11-20T05:00Z","p":0.4277}]},"mark":{"type":"point","filled":true,"fill":"#131722","stroke":"#9b3fbd","strokeWidth":1.8,"opacity":1,"size":250}},
{"data":{"values":[{"t":"2025-11-20T05:00Z","p":0.4277,"s":"⚡"}]},"mark":{"type":"text","font":"DejaVu Sans","fontSize":11,"color":"#9b3fbd","align":"center","baseline":"middle"},"encoding":{"text":{"field":"s"}}},
{"data":{"values":[{"t":"2025-11-20T16:00Z","p":0.4355}]},"mark":{"type":"point","filled":true,"fill":"#f23645","stroke":"#131722","strokeWidth":1,"opacity":1,"size":40}}
]}
